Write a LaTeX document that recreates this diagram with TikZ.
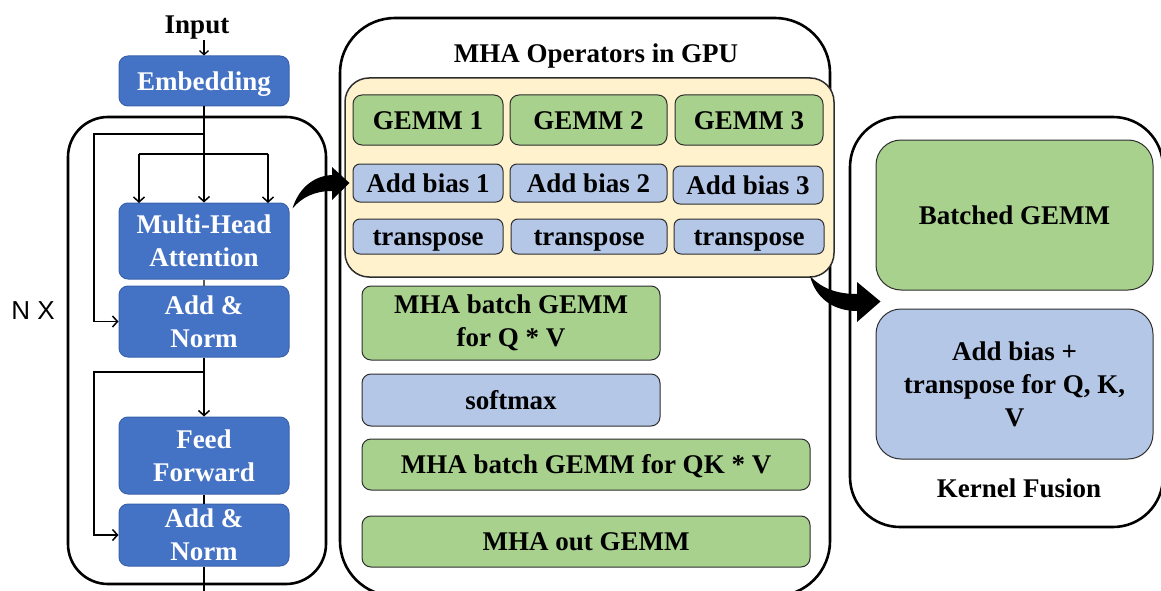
\documentclass[tikz,border=0pt]{standalone}
\usepackage{fontspec}
\setmainfont{Liberation Serif}
\newfontfamily\nxfont{Liberation Sans}
\usetikzlibrary{arrows.meta,calc}
\definecolor{deepblue}{HTML}{4472C4}
\definecolor{deepblueedge}{HTML}{3A62AC}
\definecolor{opgreen}{HTML}{A9D18E}
\definecolor{opblue}{HTML}{B4C7E7}
\definecolor{opyellow}{HTML}{FFF2CC}
\definecolor{edge}{HTML}{2E2E2E}
\begin{document}
\begin{tikzpicture}[x=1pt,y=-1pt,
  lbl/.style={font=\fontsize{27}{33}\selectfont\bfseries, align=center, inner sep=0pt,
    text height=24pt, text depth=5.8pt},
  multiline/.style={text height=, text depth=},
  box/.style={lbl, rounded corners=9pt, line width=1pt},
  bluebox/.style={box, fill=deepblue, draw=deepblueedge, text=white},
  greenbox/.style={box, fill=opgreen, draw=edge},
  lbox/.style={box, fill=opblue, draw=edge},
  frame/.style={draw=black, line width=2.6pt},
  wire/.style={line width=1.5pt},
  arr/.style={wire, -{Straight Barb[length=5pt,width=11pt]}}
]
\useasboundingbox (0,0) rectangle (1161,591);

% ---------------- encoder stack ----------------
\draw[frame, rounded corners=40pt] (68,117) rectangle (326,584);
\node[lbl] (input) at (197,24) {Input};
\node[bluebox, minimum width=170pt, minimum height=50pt] (emb) at (204,81) {Embedding};
\node[bluebox, multiline, minimum width=170pt, minimum height=76pt] (mha) at (204,241) {Multi-Head\\Attention};
\node[bluebox, multiline, minimum width=170pt, minimum height=71pt] (an1) at (204,321.5) {Add \&\\Norm};
\node[bluebox, multiline, minimum width=170pt, minimum height=77pt] (ff) at (204,455.5) {Feed\\Forward};
\node[bluebox, multiline, minimum width=170pt, minimum height=62pt] (an2) at (204,535) {Add \&\\Norm};
\node[font=\nxfont\fontsize{26}{30}\selectfont, inner sep=0pt] (nx) at (33,311) {N X};

\coordinate (split1) at (204,134);
\coordinate (fan) at (204,154);
\coordinate (split2) at (204,372);
\coordinate (out) at (204,593);

\draw[-{Straight Barb[length=4pt,width=9pt]}, line width=1.3pt] (204,40) -- (emb.north);
\draw[arr] (emb.south) -- (mha.north);
\draw[arr] (fan -| 139,0) -- (139,203);
\draw[arr] (fan -| 268,0) -- (268,203);
\draw[wire] (139,154) -- (268,154);
\draw[arr] (split1) -- (94,134) |- (an1.west);
\draw[line width=1.3pt, draw=black!65] (mha.south) -- (an1.north);
\draw[arr] (an1.south) -- (ff.north);
\draw[arr] (split2) -- (94,372) |- (an2.west);
\draw[wire] (ff.south) -- (an2.north);
\draw[wire] (an2.south) -- (out);

% ---------------- MHA operators ----------------
\draw[frame, rounded corners=55pt] (340,18) rectangle (830,596);
\node[lbl] (title) at (596,53) {MHA Operators in GPU};
\draw[fill=opyellow, draw=edge, line width=1.5pt, rounded corners=24pt] (345,78) rectangle (834,277);
\coordinate (yel) at (834,277);

\node[greenbox, minimum width=150pt, minimum height=50pt] (g1) at (428,120) {GEMM 1};
\node[greenbox, minimum width=157pt, minimum height=50pt] (g2) at (588.5,120) {GEMM 2};
\node[greenbox, minimum width=148pt, minimum height=50pt] (g3) at (749,120) {GEMM 3};
\node[lbox, minimum width=150pt, minimum height=38pt, rounded corners=7pt] (ab1) at (428,183) {Add bias 1};
\node[lbox, minimum width=157pt, minimum height=38pt, rounded corners=7pt] (ab2) at (588.5,183) {Add bias 2};
\node[lbox, minimum width=150pt, minimum height=38pt, rounded corners=7pt] (ab3) at (748,185) {Add bias 3};
\node[lbox, minimum width=150pt, minimum height=35pt, rounded corners=7pt] (t1) at (428,236.5) {transpose};
\node[lbox, minimum width=156pt, minimum height=35pt, rounded corners=7pt] (t2) at (589,236.5) {transpose};
\node[lbox, minimum width=150pt, minimum height=35pt, rounded corners=7pt] (t3) at (749,236.5) {transpose};

\node[greenbox, multiline, minimum width=298pt, minimum height=74pt] (qv) at (511,323) {MHA batch GEMM\\for Q * V};
\node[lbox, minimum width=298pt, minimum height=52pt] (sm) at (511,400) {softmax};
\node[greenbox, minimum width=448pt, minimum height=51pt] (qkv) at (586,464.5) {MHA batch GEMM for QK * V};
\node[greenbox, minimum width=448pt, minimum height=51pt] (og) at (586,541.5) {MHA out GEMM};

% ---------------- kernel fusion ----------------
\draw[frame, rounded corners=50pt] (850,117) rectangle (1163,527);
\node[greenbox, rounded corners=25pt, minimum width=277pt, minimum height=150pt] (bg) at (1014.5,215) {Batched GEMM};
\node[lbox, multiline, rounded corners=25pt, minimum width=277pt, minimum height=150pt] (abt) at (1014.5,384) {Add bias +\\transpose for Q, K,\\V};
\node[lbl] (kf) at (1019,488) {Kernel Fusion};

% ---------------- curved block arrows ----------------
\coordinate (f1s) at ($(mha.north east)+(3,6)$);
\coordinate (f1t) at ($(ab1.west)+(-3,0)$);
\fill (f1s) .. controls (298,190) and (312,176) .. (332,175) -- (332,167) -- (f1t)
      -- (332,200) -- (332,191) .. controls (315,191) and (302,197) .. (f1s) -- cycle;

\coordinate (f2s) at ($(yel)+(-24,-1)$);
\coordinate (f2t) at ($(abt.north west)+(5,-7)$);
\fill (f2s) .. controls (822,289) and (838,294) .. (857,294) -- (857,282) -- (f2t)
      -- (857,322) -- (857,311) .. controls (834,311) and (816,299) .. (f2s) -- cycle;
\end{tikzpicture}
\end{document}
